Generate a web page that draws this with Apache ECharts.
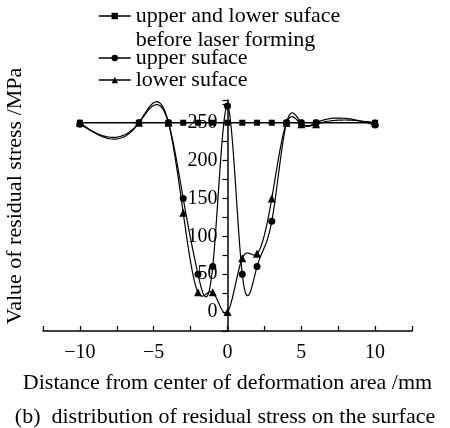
<!DOCTYPE html>
<html>
<head>
<meta charset="utf-8">
<script src="https://cdn.jsdelivr.net/npm/echarts@6/dist/echarts.min.js"></script>
<style>html,body{margin:0;padding:0;background:#fff}#c{width:450px;height:428px}</style>
</head>
<body>
<div id="c"></div>
<script>
// ---- data ----
const xPos = [-10, -6, -4, -3, -2, -1, 0, 1, 2, 3, 4, 5, 6, 10];
const beforeVals = [250, 250, 250, 250, 250, 250, 250, 250, 250, 250, 250, 250, 250, 250];
const upperVals = [248, 250, 250, 150, 50, 60, 272, 50, 60, 120, 250, 250, 250, 247];
const lowerVals = [250, 250, 250, 131, 26, 26, 0, 71, 77, 150, 250, 248, 248, 250];
const seriesNames = ['upper and lower suface\nbefore laser forming', 'upper suface', 'lower suface'];
const xTickLabels = [-10, -5, 0, 5, 10];
const yTickLabels = [0, 50, 100, 150, 200, 250];

const FONT = "'Liberation Serif','Times New Roman',serif";

function pairs(xs, ys) { return xs.map((x, i) => [x, ys[i]]); }

// natural cubic spline rendering of the pixel points (drawing style only)
function splinePath(pts) {
  const n = pts.length;
  const h = [], M = new Array(n).fill(0);
  for (let i = 0; i < n - 1; i++) h.push(pts[i + 1][0] - pts[i][0]);
  const a = [], b = [], c = [], d = [];
  for (let i = 1; i < n - 1; i++) {
    a.push(h[i - 1]); b.push(2 * (h[i - 1] + h[i])); c.push(h[i]);
    d.push(6 * ((pts[i + 1][1] - pts[i][1]) / h[i] - (pts[i][1] - pts[i - 1][1]) / h[i - 1]));
  }
  const m = b.length;
  for (let i = 1; i < m; i++) {
    const w = a[i] / b[i - 1];
    b[i] -= w * c[i - 1]; d[i] -= w * d[i - 1];
  }
  const sol = new Array(m);
  for (let i = m - 1; i >= 0; i--) sol[i] = (d[i] - (i < m - 1 ? c[i] * sol[i + 1] : 0)) / b[i];
  for (let i = 0; i < m; i++) M[i + 1] = sol[i];
  const out = [];
  for (let i = 0; i < n - 1; i++) {
    const x0 = pts[i][0], x1 = pts[i + 1][0], y0 = pts[i][1], y1 = pts[i + 1][1], hh = h[i];
    const steps = 30;
    for (let k = 0; k <= steps; k++) {
      if (i > 0 && k === 0) continue;
      const x = x0 + hh * k / steps;
      const A = x1 - x, B = x - x0;
      const y = M[i] * A * A * A / (6 * hh) + M[i + 1] * B * B * B / (6 * hh)
        + (y0 / hh - M[i] * hh / 6) * A + (y1 / hh - M[i + 1] * hh / 6) * B;
      out.push([x, y]);
    }
  }
  return out;
}

function splineSeries(vals) {
  return {
    type: 'custom', silent: true, z: 2,
    data: [[0, 0]],
    encode: { x: 0, y: 1 },
    renderItem: function (params, api) {
      const pts = xPos.map((x, i) => api.coord([x, vals[i]]));
      return { type: 'polyline', shape: { points: splinePath(pts) },
        style: { stroke: '#000', lineWidth: 1.2, fill: null } };
    }
  };
}

const legendCommon = {
  orient: 'vertical', left: 98, padding: 0, itemWidth: 32, itemHeight: 8,
  selectedMode: false,
  lineStyle: { color: '#000', width: 1.5, opacity: 1, type: 'solid' },
  itemStyle: { color: '#000' }
};

const GRID_LEFT = 43, GRID_RIGHT = 38;
const chart = echarts.init(document.getElementById('c'), null, { renderer: 'canvas' });
chart.setOption({
  animation: false,
  backgroundColor: '#fff',
  textStyle: { fontFamily: FONT, color: '#000' },
  title: {
    text: '(b)  distribution of residual stress on the surface',
    left: 'center', top: 406, padding: 0,
    textStyle: { fontFamily: FONT, fontSize: 22, fontWeight: 'normal', color: '#000' }
  },
  legend: [
    Object.assign({}, legendCommon, { top: -20, data: [seriesNames[0]],
      formatter: name => ' \n' + name,
      textStyle: { fontFamily: FONT, fontSize: 22, lineHeight: 24, color: '#000' } }),
    Object.assign({}, legendCommon, { top: 47, data: [seriesNames[1]],
      textStyle: { fontFamily: FONT, fontSize: 22, lineHeight: 22, color: '#000' } }),
    Object.assign({}, legendCommon, { top: 69, data: [seriesNames[2]],
      textStyle: { fontFamily: FONT, fontSize: 22, lineHeight: 22, color: '#000' } })
  ],
  graphic: [{
    type: 'text', x: 15, y: 196, rotation: Math.PI / 2,
    style: { text: 'Value of residual stress /MPa', fontSize: 22, fontFamily: FONT, fill: '#000',
      align: 'center', verticalAlign: 'middle' }
  }],
  grid: { left: GRID_LEFT, right: GRID_RIGHT, top: 100, bottom: 97, containLabel: false, outerBoundsMode: 'none' },
  xAxis: {
    type: 'value', min: -12.5, max: 12.5, interval: 2.5,
    axisLine: { onZero: false, lineStyle: { color: '#000', width: 1.5 } },
    axisTick: { inside: true, length: 5, lineStyle: { color: '#000', width: 1.2 } },
    splitLine: { show: false },
    axisLabel: {
      margin: 12, fontFamily: FONT, fontSize: 20, color: '#000',
      formatter: v => xTickLabels.some(t => Math.abs(t - v) < 1e-9) ? String(v).replace('-', '\u2212') : ''
    },
    name: 'Distance from center of deformation area /mm',
    nameLocation: 'middle', nameGap: 41,
    nameTextStyle: { fontFamily: FONT, fontSize: 22, color: '#000' }
  },
  yAxis: {
    type: 'value', min: -25, max: 280, interval: 25,
    // axis drawn through x = 0 (middle of the symmetric x range)
    offset: -(450 - GRID_LEFT - GRID_RIGHT) / 2,
    axisLine: { onZero: false, lineStyle: { color: '#000', width: 1.5 } },
    axisTick: { length: 5, lineStyle: { color: '#000', width: 1.2 } },
    splitLine: { show: false },
    axisLabel: {
      margin: 10, fontFamily: FONT, fontSize: 20, color: '#000',
      formatter: v => yTickLabels.indexOf(v) >= 0 ? String(v) : ''
    }
  },
  series: [
    splineSeries(upperVals),
    splineSeries(lowerVals),
    { name: seriesNames[0], type: 'line', data: pairs(xPos, beforeVals), symbol: 'rect', symbolSize: 6,
      showAllSymbol: true, itemStyle: { color: '#000' }, lineStyle: { color: '#000', width: 1.5 }, z: 3 },
    { name: seriesNames[1], type: 'line', data: pairs(xPos, upperVals), symbol: 'circle', symbolSize: 7,
      showAllSymbol: true, itemStyle: { color: '#000' }, lineStyle: { color: '#000', width: 1.2, opacity: 0 }, z: 4 },
    { name: seriesNames[2], type: 'line', data: pairs(xPos, lowerVals), symbol: 'triangle', symbolSize: 8,
      showAllSymbol: true, itemStyle: { color: '#000' }, lineStyle: { color: '#000', width: 1.2, opacity: 0 }, z: 4 }
  ]
});
</script>
</body>
</html>
